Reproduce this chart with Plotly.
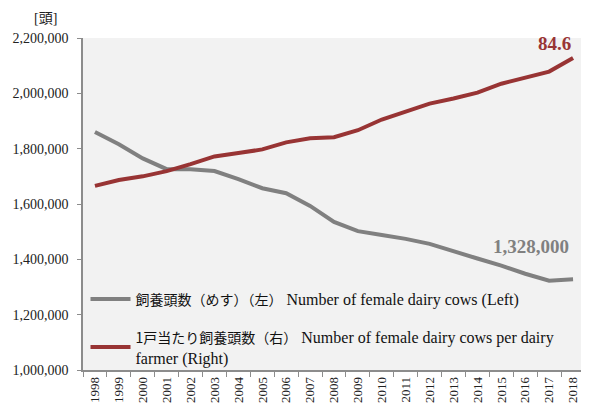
import plotly.graph_objects as go

years = [str(y) for y in range(1998, 2019)]
# female dairy cows (head), left axis
cows = [1860000, 1816000, 1765000, 1726000, 1726000, 1719000, 1690000,
        1657000, 1639000, 1593000, 1535000, 1502000, 1488000, 1474000,
        1456000, 1431000, 1403000, 1377000, 1348000, 1323000, 1328000]
# cows per dairy farmer, right axis
per_farm = [49.9, 51.5, 52.5, 53.9, 55.8, 57.9, 58.8, 59.8, 61.7, 62.8,
            63.1, 65.0, 67.9, 70.1, 72.2, 73.6, 75.2, 77.6, 79.2, 80.9, 84.6]

GRAY = "#808080"
RED = "#983434"
AXIS = "#8c8c8c"
FONT = "Liberation Serif"
JP = '<span style="font-size:14px;font-family:Noto Sans CJK JP">{}</span>'

fig = go.Figure()
fig.add_trace(go.Scatter(
    x=years, y=cows, mode="lines", line=dict(color=GRAY, width=4),
    legendgroup="a",
    name=JP.format("飼養頭数（めす）（左）") + " Number of female dairy cows (Left)",
))
fig.add_trace(go.Scatter(
    x=years, y=per_farm, mode="lines", line=dict(color=RED, width=4),
    yaxis="y2", legendgroup="b",
    name=JP.format("1戸当たり飼養頭数（右）")
    + " Number of female dairy cows per dairy<br>farmer (Right)",
))

fig.add_annotation(x=20, y=per_farm[-1], xref="x", yref="y2", text="<b>84.6</b>",
                   showarrow=False, xanchor="right", yanchor="bottom",
                   xshift=0, yshift=2, font=dict(size=19, color=RED, family=FONT))
fig.add_annotation(x=20, y=cows[-1], xref="x", yref="y", text="<b>1,328,000</b>",
                   showarrow=False, xanchor="right", yanchor="bottom",
                   xshift=-2, yshift=20, font=dict(size=19, color=GRAY, family=FONT))
fig.add_annotation(x=-0.075, y=1.058, xref="paper", yref="paper",
                   text="[頭]",
                   showarrow=False, xanchor="center", yanchor="middle",
                   font=dict(size=14, color="#222", family=FONT + ", Noto Sans CJK JP"))

# page body has an 8px margin, so the figure is shrunk and shifted accordingly
fig.update_layout(
    width=581, height=399,
    margin=dict(l=75, r=4, t=30, b=35),
    paper_bgcolor="white", plot_bgcolor="#f2f2f2",
    font=dict(family=FONT, size=14, color="#222"),
    showlegend=True,
    legend=dict(x=0.005, y=0.265, xanchor="left", yanchor="top",
                bgcolor="rgba(0,0,0,0)", font=dict(size=16, color="#111", family=FONT),
                itemwidth=40, tracegroupgap=14),
    xaxis=dict(type="category", categoryorder="array", categoryarray=years,
               range=[-0.5, 20.5], showgrid=False, showline=True, linecolor=AXIS,
               linewidth=1.5, ticks="outside", tickson="boundaries", ticklen=5,
               tickcolor=AXIS, tickangle=-90, tickfont=dict(size=13, family=FONT)),
    yaxis=dict(range=[1000000, 2200000], dtick=200000, tickformat=",",
               showgrid=False, showline=True, linecolor=AXIS, linewidth=1.5,
               ticks="outside", ticklen=4, tickcolor=AXIS, zeroline=False,
               ticklabelstandoff=6, tickfont=dict(size=14, family=FONT)),
    yaxis2=dict(range=[0, 90], overlaying="y", side="right", showgrid=False,
                showline=True, linecolor=AXIS, linewidth=1.5, showticklabels=False,
                ticks="", zeroline=False),
)

fig.write_html("out.html")
